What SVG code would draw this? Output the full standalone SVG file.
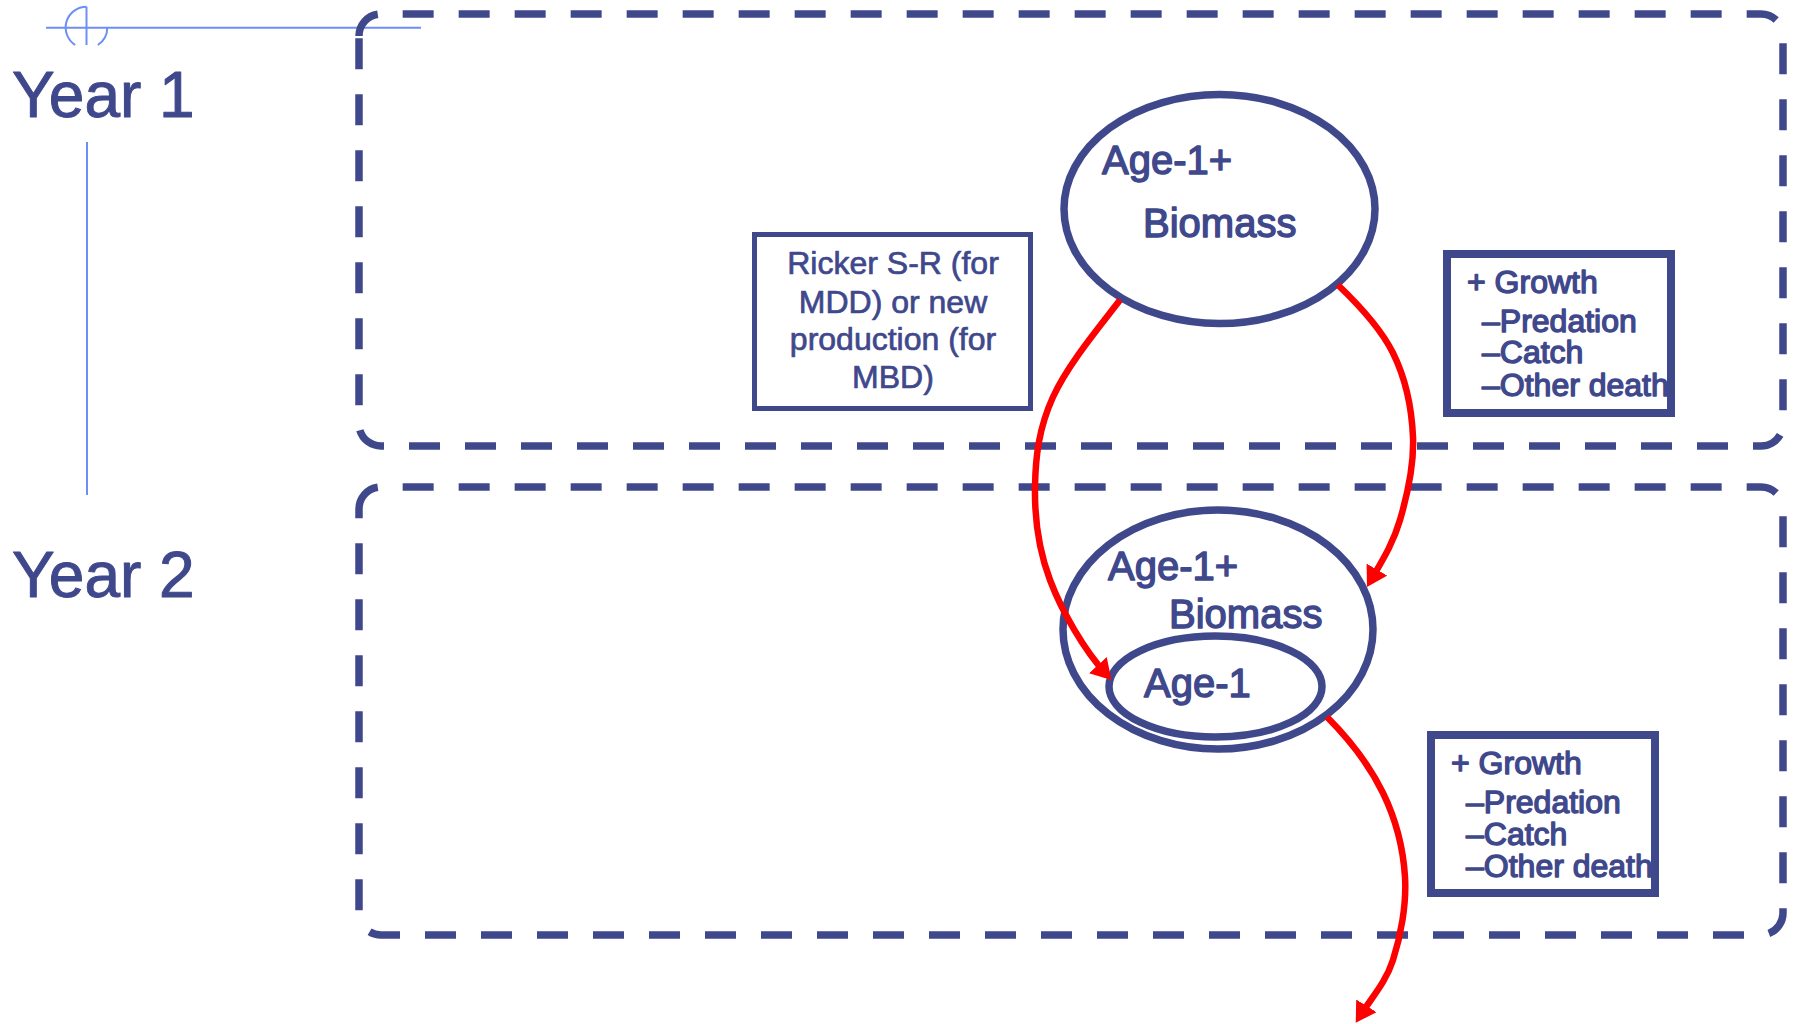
<svg xmlns="http://www.w3.org/2000/svg" width="1796" height="1024" viewBox="0 0 1796 1024">
<style>
.t{font-family:"Liberation Sans",Arial,sans-serif;fill:#40488c;stroke:#40488c;stroke-width:1.4;stroke-linejoin:round}
.yr{font-size:64px;stroke-width:1}
.el{font-size:40px}
.sm{font-size:32px}
.rk{stroke-width:0.7}
.dash{fill:none;stroke:#40488c;stroke-width:7.5;stroke-dasharray:31 25}
.node{fill:none;stroke:#40488c;stroke-width:7.5}
.box{fill:none;stroke:#40488c;stroke-width:8}
.guide{fill:none;stroke:#6d8ff5;stroke-width:2}
.arrow{fill:none;stroke:#ff0000;stroke-width:6.5;marker-end:url(#ah)}
</style>
<defs>
<marker id="ah" markerUnits="userSpaceOnUse" viewBox="0 0 20 24" markerWidth="20" markerHeight="24" refX="12" refY="12" orient="auto">
<path d="M0,0 L20,12 L0,24 z" fill="#ff0000"/>
</marker>
</defs>
<rect width="1796" height="1024" fill="#ffffff"/>

<g id="guides">
<line class="guide" x1="46" y1="27.7" x2="421" y2="27.7"/>
<line class="guide" x1="86.5" y1="6.7" x2="86.5" y2="45"/>
<path class="guide" d="M86.5,6.7 A20.8,20.8 0 0 0 75.2,45"/>
<path class="guide" d="M97.8,45 A20.8,20.8 0 0 0 107.3,27.5"/>
<line class="guide" x1="87" y1="142" x2="87" y2="495"/>
</g>

<g id="year1-label"><text class="t yr" x="12" y="117">Year 1</text></g>
<g id="year2-label"><text class="t yr" x="12" y="597">Year 2</text></g>

<g id="year1-box">
<path class="dash" d="M359,36 A22,22 0 0 1 381,14 H1761 A22,22 0 0 1 1783,36 V424 A22,22 0 0 1 1761,446 H381 A22,22 0 0 1 359,424 Z"/>
</g>
<g id="year2-box">
<path class="dash" d="M359,509 A22,22 0 0 1 381,487 H1761 A22,22 0 0 1 1783,509 V913 A22,22 0 0 1 1761,935 H381 A22,22 0 0 1 359,913 Z"/>
</g>

<g id="ricker-box">
<rect class="node" style="stroke-width:5" x="754.5" y="234.5" width="276" height="174"/>
<text class="t sm rk" x="893" y="274" text-anchor="middle">Ricker S-R (for</text>
<text class="t sm rk" x="893" y="313" text-anchor="middle">MDD) or new</text>
<text class="t sm rk" x="893" y="350" text-anchor="middle">production (for</text>
<text class="t sm rk" x="893" y="388" text-anchor="middle">MBD)</text>
</g>

<g id="biomass-year1">
<ellipse class="node" cx="1219.5" cy="209" rx="155.5" ry="114.5"/>
<text class="t el" x="1102" y="174">Age-1+</text>
<text class="t el" x="1143" y="237">Biomass</text>
</g>

<g id="growth-box-1">
<rect class="box" x="1447" y="254" width="224" height="159"/>
<text class="t sm" x="1467" y="293">+ Growth</text>
<text class="t sm" x="1482" y="332">–Predation</text>
<text class="t sm" x="1482" y="363">–Catch</text>
<text class="t sm" x="1482" y="396">–Other death</text>
</g>

<g id="biomass-year2">
<ellipse class="node" cx="1218" cy="629.5" rx="155" ry="119.5"/>
<text class="t el" x="1108" y="580">Age-1+</text>
<text class="t el" x="1169" y="628">Biomass</text>
</g>

<g id="age1-year2">
<ellipse class="node" cx="1215.5" cy="686.5" rx="106.5" ry="50.5"/>
<text class="t el" x="1144" y="697">Age-1</text>
</g>

<g id="growth-box-2">
<rect class="box" x="1431" y="735" width="224" height="158"/>
<text class="t sm" x="1451" y="774">+ Growth</text>
<text class="t sm" x="1466" y="813">–Predation</text>
<text class="t sm" x="1466" y="845">–Catch</text>
<text class="t sm" x="1466" y="877">–Other death</text>
</g>

<g id="connectors">
<path class="arrow" d="M1120,300 C1096,331 1067.2,365.8 1053,397 C1038.8,428.2 1035.5,456.5 1035,487 C1034.5,517.5 1038.2,548.8 1050,580 C1061.8,611.2 1084,650 1106,674"/>
<path class="arrow" d="M1338,285 C1358.9,305 1380.5,327.7 1393,353 C1405.5,378.3 1411.8,409.2 1413,437 C1414.2,464.8 1407,496.2 1400,520 C1393,543.8 1382,561 1371,580"/>
<path class="arrow" d="M1327,717 C1349,739 1370,766.3 1383,793 C1396,819.7 1403.3,849.2 1405,877 C1406.7,904.8 1400.5,936.8 1393,960 C1385.5,983.2 1371.7,997.3 1360,1016"/>
</g>
</svg>
